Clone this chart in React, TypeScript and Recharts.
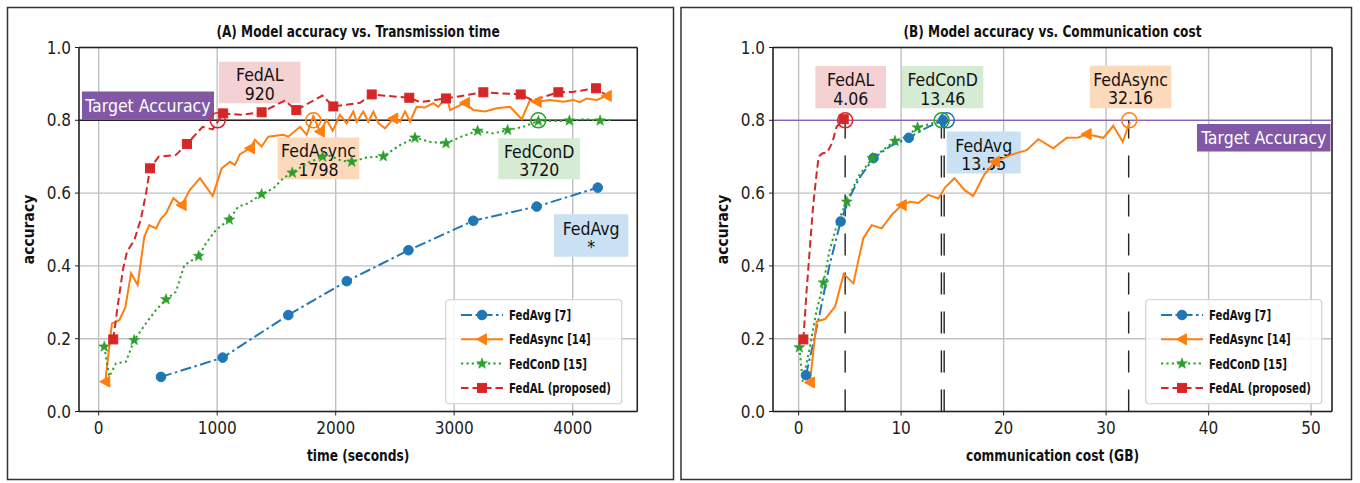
import React from 'react';
import { LineChart, Line, XAxis, YAxis, CartesianGrid, ReferenceLine, ReferenceArea, ReferenceDot } from 'recharts';

const FONT = "'DejaVu Sans Condensed', 'DejaVu Sans', sans-serif";

// ---------- (A) accuracy vs transmission time ----------
const avgTimeX = [526, 1046, 1600, 2094, 2614, 3161, 3696, 4211];
const avgTimeY = [0.095, 0.148, 0.265, 0.358, 0.443, 0.524, 0.563, 0.615];
const avgTimeMarks = [0, 1, 2, 3, 4, 5, 6, 7];

const asyncTimeX = [56, 112, 174, 225, 273, 329, 385, 427, 484, 526, 568, 630, 700, 770, 855, 962, 1038, 1108, 1150, 1192, 1277, 1319, 1375, 1431, 1558, 1600, 1699, 1755, 1811, 1867, 1924, 1975, 2036, 2093, 2149, 2177, 2233, 2275, 2318, 2360, 2416, 2486, 2543, 2585, 2627, 2683, 2750, 2824, 2866, 2937, 2965, 3021, 3091, 3161, 3260, 3359, 3471, 3570, 3640, 3696, 3808, 3921, 4005, 4060, 4118, 4203, 4287];
const asyncTimeY = [0.082, 0.242, 0.251, 0.286, 0.38, 0.348, 0.48, 0.512, 0.503, 0.53, 0.544, 0.586, 0.567, 0.609, 0.641, 0.592, 0.668, 0.686, 0.677, 0.707, 0.723, 0.746, 0.728, 0.755, 0.76, 0.755, 0.782, 0.76, 0.812, 0.769, 0.801, 0.771, 0.815, 0.792, 0.824, 0.796, 0.824, 0.796, 0.824, 0.792, 0.778, 0.805, 0.796, 0.824, 0.796, 0.837, 0.835, 0.847, 0.837, 0.865, 0.828, 0.837, 0.848, 0.828, 0.824, 0.833, 0.837, 0.803, 0.856, 0.851, 0.856, 0.851, 0.856, 0.85, 0.86, 0.856, 0.867];
const asyncTimeMarks = [0, 12, 20, 29, 41, 52, 59, 66];

const conDTimeX = [47, 89, 146, 230, 300, 399, 484, 568, 652, 723, 844, 905, 990, 1102, 1178, 1262, 1375, 1474, 1558, 1634, 1755, 1890, 1952, 2050, 2135, 2262, 2402, 2543, 2669, 2796, 2931, 3060, 3198, 3330, 3451, 3583, 3710, 3837, 3972, 4100, 4231, 4329];
const conDTimeY = [0.178, 0.096, 0.132, 0.137, 0.196, 0.242, 0.279, 0.308, 0.329, 0.402, 0.427, 0.462, 0.499, 0.527, 0.563, 0.572, 0.597, 0.613, 0.641, 0.656, 0.682, 0.7, 0.702, 0.689, 0.686, 0.698, 0.701, 0.732, 0.752, 0.741, 0.737, 0.755, 0.771, 0.764, 0.773, 0.782, 0.798, 0.798, 0.799, 0.803, 0.799, 0.801];
const conDTimeMarks = [0, 4, 7, 10, 13, 16, 19, 21, 24, 26, 28, 30, 32, 34, 36, 38, 40];

const alTimeX = [123, 165, 205, 240, 300, 357, 400, 433, 506, 652, 745, 877, 962, 1050, 1200, 1375, 1570, 1668, 1887, 1980, 2205, 2304, 2621, 2712, 2931, 3246, 3561, 3662, 3879, 4000, 4197, 4301];
const alTimeY = [0.198, 0.3, 0.39, 0.44, 0.47, 0.53, 0.6, 0.668, 0.7, 0.705, 0.735, 0.782, 0.775, 0.819, 0.815, 0.822, 0.854, 0.828, 0.868, 0.838, 0.848, 0.871, 0.862, 0.85, 0.86, 0.877, 0.871, 0.855, 0.877, 0.878, 0.888, 0.865];
const alTimeMarks = [0, 7, 10, 13, 15, 17, 19, 21, 22, 24, 25, 26, 28, 30];

const timeTicks = [0, 1000, 2000, 3000, 4000];
const timeDomain = [-166, 4545];
const timeHits = [
  { x: 1004, color: '#d62728' },
  { x: 1811, color: '#ff7f0e' },
  { x: 3710, color: '#2ca02c' },
];

// ---------- (B) accuracy vs communication cost ----------
const avgCostX = [0.72, 2.0, 3.0, 4.1, 5.0, 5.9, 7.3, 9.0, 10.75, 12.5, 14.1];
const avgCostY = [0.1, 0.26, 0.4, 0.522, 0.59, 0.64, 0.696, 0.73, 0.752, 0.78, 0.8];
const avgCostMarks = [0, 3, 6, 8, 10];

const asyncCostX = [1.1, 1.76, 2.58, 3.55, 4.4, 5.34, 6.31, 7.13, 8.1, 9.08, 10.06, 10.87, 11.68, 12.65, 13.63, 14.3, 15.2, 16.2, 17.04, 18.1, 19.16, 20.7, 22.25, 23.39, 24.85, 26.16, 27.3, 28.1, 29.73, 30.7, 31.62, 32.33];
const asyncCostY = [0.08, 0.247, 0.254, 0.288, 0.378, 0.352, 0.476, 0.512, 0.503, 0.54, 0.567, 0.576, 0.573, 0.595, 0.585, 0.616, 0.641, 0.608, 0.592, 0.65, 0.686, 0.705, 0.718, 0.748, 0.723, 0.752, 0.753, 0.762, 0.752, 0.785, 0.741, 0.796];
const asyncCostMarks = [0, 10, 20, 27];

const conDCostX = [0.07, 0.4, 1.05, 1.7, 2.43, 3.0, 3.8, 4.7, 5.8, 7.2, 8.3, 9.4, 10.5, 11.6, 12.8, 13.96];
const conDCostY = [0.176, 0.082, 0.17, 0.27, 0.354, 0.44, 0.52, 0.576, 0.645, 0.696, 0.72, 0.743, 0.755, 0.78, 0.79, 0.8];
const conDCostMarks = [0, 4, 7, 9, 11, 13];

const alCostX = [0.46, 0.8, 1.1, 1.4, 1.7, 1.95, 2.3, 2.8, 3.3, 3.7, 4.4];
const alCostY = [0.198, 0.34, 0.45, 0.56, 0.64, 0.7, 0.709, 0.712, 0.74, 0.782, 0.803];
const alCostMarks = [0, 10];

const costTicks = [0, 10, 20, 30, 40, 50];
const costDomain = [-2.5, 52.04];
const costHits = [
  { x: 4.54, color: '#d62728' },
  { x: 13.96, color: '#2ca02c' },
  { x: 14.45, color: '#1f77b4' },
  { x: 32.26, color: '#ff7f0e' },
];
const costVLines = [4.54, 13.93, 14.2, 32.2];

const yTicks = [0, 0.2, 0.4, 0.6, 0.8, 1.0];
const TARGET = 0.8;

const legendNames = ['FedAvg [7]', 'FedAsync [14]', 'FedConD [15]', 'FedAL (proposed)'];

const C = { avg: '#1f77b4', async: '#ff7f0e', cond: '#2ca02c', al: '#d62728' };
const BOX = { al: '#f4d2d4', async: '#fcd9bb', cond: '#d5ebd3', avg: '#c9e1f3', target: '#8058a5' };

type Shape = 'circle' | 'tri' | 'star' | 'square';

const starPath = (cx: number, cy: number, ro: number, ri: number) => {
  let d = '';
  for (let i = 0; i < 10; i++) {
    const r = i % 2 === 0 ? ro : ri;
    const a = -Math.PI / 2 + (i * Math.PI) / 5;
    d += (i === 0 ? 'M' : 'L') + (cx + r * Math.cos(a)).toFixed(2) + ',' + (cy + r * Math.sin(a)).toFixed(2);
  }
  return d + 'Z';
};

function Marker({ shape, cx, cy, color }: { shape: Shape; cx: number; cy: number; color: string }) {
  if (shape === 'circle') return <circle cx={cx} cy={cy} r={4.8} fill={color} stroke={color} />;
  if (shape === 'square') return <rect x={cx - 4.5} y={cy - 4.5} width={9} height={9} fill={color} stroke={color} />;
  if (shape === 'tri')
    return <path d={`M${cx - 5.5},${cy}L${cx + 4.5},${cy - 5.5}L${cx + 4.5},${cy + 5.5}Z`} fill={color} stroke={color} />;
  return <path d={starPath(cx, cy, 5.8, 2.4)} fill={color} stroke={color} strokeWidth={0.5} />;
}

// condensed text: horizontal squeeze to imitate a narrow face
function SText({ x, y, sx = 1, size, bold, fill = '#111', anchor = 'middle', rotate = 0, children }: any) {
  const tf = `translate(${x} ${y})${rotate ? ` rotate(${rotate})` : ''} scale(${sx} 1)`;
  return (
    <text transform={tf} textAnchor={anchor} fontFamily={FONT} fontSize={size} fontWeight={bold ? 'bold' : 'normal'} fill={fill}>
      {children}
    </text>
  );
}

const rowsOf = (xs: number[], ys: number[], marks: number[]) =>
  xs.map((x, i) => ({ x, y: ys[i], m: marks.includes(i) }));

const dotFor = (shape: Shape, color: string) => (p: any) => {
  const { cx, cy, payload, index } = p;
  if (!payload || !payload.m || cx == null || cy == null) return <g key={`n-${index}`} />;
  return (
    <g key={`m-${index}`}>
      <Marker shape={shape} cx={cx} cy={cy} color={color} />
    </g>
  );
};

const STYLE = {
  avg: { color: C.avg, dash: '11 3.5 2.5 3.5', shape: 'circle' as Shape },
  async: { color: C.async, dash: undefined as string | undefined, shape: 'tri' as Shape },
  cond: { color: C.cond, dash: '2.2 3.2', shape: 'star' as Shape },
  al: { color: C.al, dash: '7.5 4', shape: 'square' as Shape },
};

const boxLabel = (lines: string[], color = '#111', size = 17.5) => (p: any) => {
  const vb = p.viewBox || {};
  const cx = vb.x + vb.width / 2;
  const cy = vb.y + vb.height / 2;
  if (lines.length === 1) {
    return (
      <SText x={cx} y={cy + size * 0.36} size={size} fill={color}>
        {lines[0]}
      </SText>
    );
  }
  return (
    <g>
      <SText x={cx} y={cy - 1} size={size} fill={color}>
        {lines[0]}
      </SText>
      <SText x={cx} y={cy + 17.5} size={size} fill={color}>
        {lines[1]}
      </SText>
    </g>
  );
};

const tickStyle = { fontFamily: FONT, fontSize: 17, fill: '#222' };

const xLabel = (text: string) => (p: any) => {
  const vb = p.viewBox || {};
  return (
    <SText x={vb.x + vb.width / 2} y={vb.y + 49} size={16} bold sx={0.85}>
      {text}
    </SText>
  );
};

const yLabel = (p: any) => {
  const vb = p.viewBox || {};
  const x = vb.x + vb.width - 45;
  const y = vb.y + vb.height / 2;
  return (
    <SText x={x} y={y} size={16} bold sx={0.97} rotate={-90}>
      accuracy
    </SText>
  );
};

type Box = { x1: number; x2: number; y1: number; y2: number; fill: string; lines: string[]; text?: string };

function Panel(props: {
  width: number;
  margin: { top: number; right: number; bottom: number; left: number };
  domain: number[];
  ticks: number[];
  xTitle: string;
  series: { key: 'avg' | 'async' | 'cond' | 'al'; rows: any[] }[];
  boxes: Box[];
  hits: { x: number; color: string }[];
  targetColor: string;
  targetWidth: number;
  vlines: number[];
}) {
  const { width, margin, domain, ticks, xTitle, series, boxes, hits, targetColor, targetWidth, vlines } = props;
  return (
    <LineChart width={width} height={483} margin={margin}>
      <CartesianGrid stroke="#c0c0c0" strokeWidth={1.4} />
      <XAxis
        type="number"
        dataKey="x"
        domain={domain}
        ticks={ticks}
        allowDataOverflow
        height={40}
        tick={tickStyle}
        tickSize={4}
        tickMargin={6}
        stroke="#222"
        axisLine={{ stroke: '#222', strokeWidth: 1.5 }}
        label={xLabel(xTitle)}
      />
      <YAxis
        type="number"
        dataKey="y"
        domain={[0, 1]}
        ticks={yTicks}
        allowDataOverflow
        width={50}
        tick={tickStyle}
        tickSize={4}
        tickMargin={4}
        stroke="#222"
        axisLine={{ stroke: '#222', strokeWidth: 1.5 }}
        tickFormatter={(v: number) => v.toFixed(1)}
        label={yLabel}
      />
      <ReferenceLine y={1} stroke="#222" strokeWidth={1.5} />
      <ReferenceLine x={domain[1]} stroke="#222" strokeWidth={1.5} />
      {boxes.map((b, i) => (
        <ReferenceArea
          key={`b${i}`}
          x1={b.x1}
          x2={b.x2}
          y1={b.y1}
          y2={b.y2}
          fill={b.fill}
          fillOpacity={1}
          stroke="none"
          ifOverflow="visible"
          label={boxLabel(b.lines, b.text || '#111')}
        />
      ))}
      <ReferenceLine y={TARGET} stroke={targetColor} strokeWidth={targetWidth} />
      {vlines.map((x, i) => (
        <ReferenceLine
          key={`v${i}`}
          segment={[{ x, y: 0 }, { x, y: TARGET }]}
          stroke="#222"
          strokeWidth={1.4}
          strokeDasharray="22 17"
        />
      ))}
      {series.map((s) => {
        const st = STYLE[s.key];
        return (
          <Line
            key={s.key}
            data={s.rows}
            dataKey="y"
            type="linear"
            stroke={st.color}
            strokeWidth={2}
            strokeDasharray={st.dash}
            dot={dotFor(st.shape, st.color)}
            activeDot={false}
            isAnimationActive={false}
          />
        );
      })}
      {hits.map((h, i) => (
        <ReferenceDot key={`h${i}`} x={h.x} y={TARGET} r={7.5} fill="none" stroke={h.color} strokeWidth={1.6} />
      ))}
    </LineChart>
  );
}

function Legend({ left, top }: { left: number; top: number }) {
  const keys: ('avg' | 'async' | 'cond' | 'al')[] = ['avg', 'async', 'cond', 'al'];
  return (
    <svg width={178} height={106} style={{ position: 'absolute', left, top }}>
      <rect x={0.75} y={0.75} width={176} height={104} rx={3} fill="#fff" fillOpacity={0.85} stroke="#d0d0d0" strokeWidth={1.2} />
      {keys.map((k, i) => {
        const st = STYLE[k];
        const y = 16 + i * 24.3;
        return (
          <g key={k}>
            <line x1={16} x2={58} y1={y} y2={y} stroke={st.color} strokeWidth={2} strokeDasharray={st.dash} />
            <Marker shape={st.shape} cx={37} cy={y} color={st.color} />
            <SText x={64} y={y + 5} size={13.5} bold sx={0.84} anchor="start">
              {legendNames[i]}
            </SText>
          </g>
        );
      })}
    </svg>
  );
}

export default function App() {
  const timeSeries = [
    { key: 'avg' as const, rows: rowsOf(avgTimeX, avgTimeY, avgTimeMarks) },
    { key: 'async' as const, rows: rowsOf(asyncTimeX, asyncTimeY, asyncTimeMarks) },
    { key: 'cond' as const, rows: rowsOf(conDTimeX, conDTimeY, conDTimeMarks) },
    { key: 'al' as const, rows: rowsOf(alTimeX, alTimeY, alTimeMarks) },
  ];
  const costSeries = [
    { key: 'avg' as const, rows: rowsOf(avgCostX, avgCostY, avgCostMarks) },
    { key: 'async' as const, rows: rowsOf(asyncCostX, asyncCostY, asyncCostMarks) },
    { key: 'cond' as const, rows: rowsOf(conDCostX, conDCostY, conDCostMarks) },
    { key: 'al' as const, rows: rowsOf(alCostX, alCostY, alCostMarks) },
  ];
  const timeBoxes: Box[] = [
    { x1: -141, x2: 973, y1: 0.803, y2: 0.879, fill: BOX.target, lines: ['Target Accuracy'], text: '#fff' },
    { x1: 1015, x2: 1703, y1: 0.847, y2: 0.961, fill: BOX.al, lines: ['FedAL', '920'] },
    { x1: 1510, x2: 2199, y1: 0.638, y2: 0.753, fill: BOX.async, lines: ['FedAsync', '1798'] },
    { x1: 3372, x2: 4062, y1: 0.638, y2: 0.751, fill: BOX.cond, lines: ['FedConD', '3720'] },
    { x1: 3842, x2: 4469, y1: 0.425, y2: 0.542, fill: BOX.avg, lines: ['FedAvg', '*'] },
  ];
  const costBoxes: Box[] = [
    { x1: 1.63, x2: 8.53, y1: 0.833, y2: 0.949, fill: BOX.al, lines: ['FedAL', '4.06'] },
    { x1: 10.09, x2: 18.02, y1: 0.833, y2: 0.949, fill: BOX.cond, lines: ['FedConD', '13.46'] },
    { x1: 14.45, x2: 21.67, y1: 0.654, y2: 0.769, fill: BOX.avg, lines: ['FedAvg', '13.55'] },
    { x1: 28.41, x2: 36.36, y1: 0.833, y2: 0.95, fill: BOX.async, lines: ['FedAsync', '32.16'] },
    { x1: 38.87, x2: 51.89, y1: 0.714, y2: 0.79, fill: BOX.target, lines: ['Target Accuracy'], text: '#fff' },
  ];
  return (
    <div style={{ position: 'absolute', left: 0, top: 0, width: 1360, height: 483, background: '#fff', overflow: 'hidden' }}>
      <svg width={1360} height={483} style={{ position: 'absolute', left: 0, top: 0 }}>
        <rect x={7.5} y={7.5} width={666} height={472} fill="none" stroke="#333" strokeWidth={1.5} />
        <rect x={681} y={7.5} width={670.5} height={472} fill="none" stroke="#333" strokeWidth={1.5} />
        <SText x={358} y={37} size={15} bold sx={0.9}>
          (A) Model accuracy vs. Transmission time
        </SText>
        <SText x={1052.5} y={37} size={15} bold sx={0.9}>
          (B) Model accuracy vs. Communication cost
        </SText>
      </svg>
      <div style={{ position: 'absolute', left: 0, top: 0 }}>
        <Panel
          width={680}
          margin={{ top: 47.5, right: 42.7, bottom: 31.5, left: 29 }}
          domain={timeDomain}
          ticks={timeTicks}
          xTitle="time (seconds)"
          series={timeSeries}
          boxes={timeBoxes}
          hits={timeHits}
          targetColor="#222"
          targetWidth={1.6}
          vlines={[]}
        />
      </div>
      <div style={{ position: 'absolute', left: 680, top: 0 }}>
        <Panel
          width={680}
          margin={{ top: 47.5, right: 28, bottom: 31.5, left: 43 }}
          domain={costDomain}
          ticks={costTicks}
          xTitle="communication cost (GB)"
          series={costSeries}
          boxes={costBoxes}
          hits={costHits}
          targetColor="#8a63b8"
          targetWidth={1.3}
          vlines={costVLines}
        />
      </div>
      <Legend left={445} top={299} />
      <Legend left={1145} top={299} />
    </div>
  );
}
